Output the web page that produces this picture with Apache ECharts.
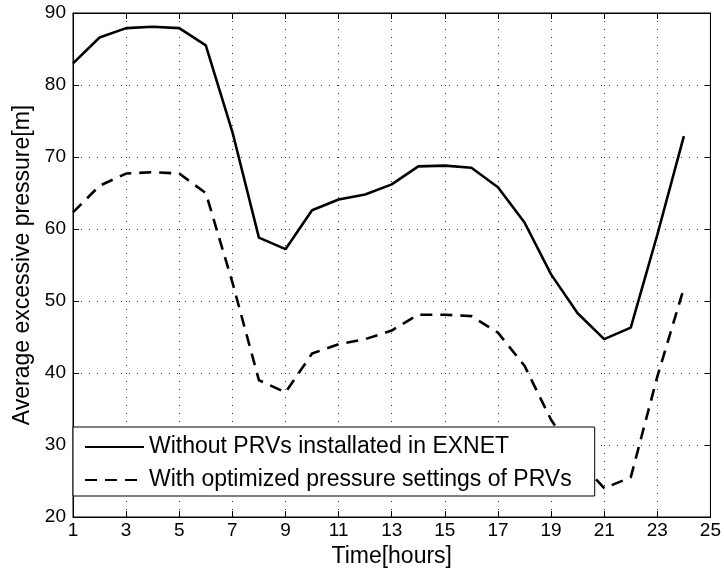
<!DOCTYPE html>
<html>
<head>
<meta charset="utf-8">
<script src="https://cdn.jsdelivr.net/npm/echarts@6/dist/echarts.min.js"></script>
<style>html,body{margin:0;padding:0;background:#fff;}#c{width:724px;height:573px;}</style>
</head>
<body>
<div id="c"></div>
<script>
const hours = [1,2,3,4,5,6,7,8,9,10,11,12,13,14,15,16,17,18,19,20,21,22,23,24];
const withoutPRV = [83.0,86.6,87.9,88.1,87.9,85.5,73.5,58.8,57.2,62.6,64.1,64.8,66.2,68.7,68.8,68.5,65.8,60.9,53.7,48.3,44.7,46.3,59.2,72.9];
const withOptPRV = [62.3,66.0,67.7,67.9,67.7,65.0,52.6,39.0,37.3,42.7,44.0,44.7,45.9,48.1,48.1,47.9,45.6,41.0,33.5,28.0,24.0,25.5,39.5,51.8];
const seriesNames = ['Without PRVs installated in EXNET','With optimized pressure settings of PRVs'];
const xLabel = 'Time[hours]';
const yLabel = 'Average excessive pressure[m]';

const FONT = '"Liberation Sans", Arial, Helvetica, sans-serif';
const chart = echarts.init(document.getElementById('c'), null, {renderer:'canvas'});
const grid = {left:73, right:12, top:13, bottom:56, show:true, borderColor:'#000', borderWidth:1, backgroundColor:'transparent'};
const dotted = {show:true, lineStyle:{color:'#333', width:1, type:[1,7]}};
const baseX = {type:'value', min:1, max:25, interval:2};
const baseY = {type:'value', min:20, max:90, interval:10};
chart.setOption({
  animation:false,
  backgroundColor:'#fff',
  textStyle:{fontFamily:FONT},
  grid: grid,
  xAxis:[
    Object.assign({}, baseX, {
      position:'bottom',
      name:xLabel, nameLocation:'middle', nameGap:21,
      nameTextStyle:{fontSize:23, color:'#000', fontFamily:FONT},
      axisLine:{show:true, onZero:false, lineStyle:{color:'#000', width:1}},
      axisTick:{show:true, inside:true, length:6, lineStyle:{color:'#000'}},
      axisLabel:{show:true, fontSize:19, color:'#000', margin:4, fontFamily:FONT},
      splitLine:dotted
    }),
    Object.assign({}, baseX, {
      position:'top',
      axisLine:{show:true, onZero:false, lineStyle:{color:'#000', width:1}},
      axisTick:{show:true, inside:true, length:6, lineStyle:{color:'#000'}},
      axisLabel:{show:false},
      splitLine:{show:false}
    })
  ],
  yAxis:[
    Object.assign({}, baseY, {
      position:'left',
      name:yLabel, nameLocation:'middle', nameGap:35,
      nameTextStyle:{fontSize:23, color:'#000', fontFamily:FONT},
      axisLine:{show:true, onZero:false, lineStyle:{color:'#000', width:1}},
      axisTick:{show:true, inside:true, length:6, lineStyle:{color:'#000'}},
      axisLabel:{show:true, fontSize:19, color:'#000', margin:7, fontFamily:FONT},
      splitLine:dotted
    }),
    Object.assign({}, baseY, {
      position:'right',
      axisLine:{show:true, onZero:false, lineStyle:{color:'#000', width:1}},
      axisTick:{show:true, inside:true, length:6, lineStyle:{color:'#000'}},
      axisLabel:{show:false},
      splitLine:{show:false}
    })
  ],
  legend:{
    orient:'vertical',
    left:73, top:427,
    padding:[7,23,3,11],
    itemGap:7,
    itemWidth:59, itemHeight:14,
    backgroundColor:'#fff',
    borderColor:'#000', borderWidth:1,
    itemStyle:{color:'rgba(0,0,0,0)', borderColor:'rgba(0,0,0,0)', borderWidth:0, opacity:0},
    textStyle:{fontSize:23, color:'#000', fontFamily:FONT, lineHeight:26},
    data:seriesNames
  },
  series:[
    {
      name:seriesNames[0], type:'line', xAxisIndex:0, yAxisIndex:0,
      data:hours.map((h,i)=>[h, withoutPRV[i]]),
      symbol:'none', smooth:false,
      lineStyle:{color:'#000', width:2.6, type:'solid'},
      itemStyle:{color:'#000'}
    },
    {
      name:seriesNames[1], type:'line', xAxisIndex:0, yAxisIndex:0,
      data:hours.map((h,i)=>[h, withOptPRV[i]]),
      symbol:'none', smooth:false,
      lineStyle:{color:'#000', width:2.6, type:[12,8]},
      itemStyle:{color:'#000'}
    }
  ]
});
</script>
</body>
</html>
